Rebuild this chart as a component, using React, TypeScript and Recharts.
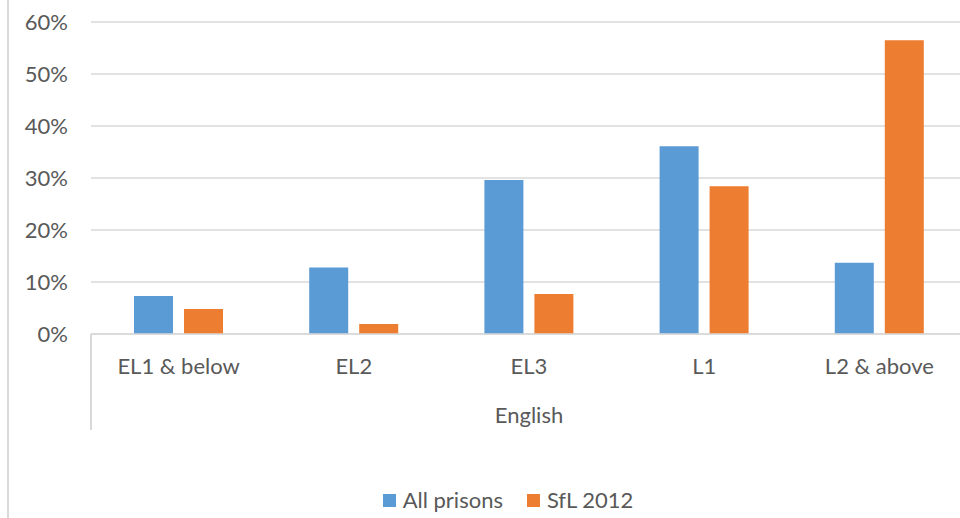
import { BarChart, Bar, XAxis, YAxis, CartesianGrid, Legend } from 'recharts';

const levels = ['EL1 & below', 'EL2', 'EL3', 'L1', 'L2 & above'];
const allPrisons = [7.3, 12.8, 29.6, 36.1, 13.7];
const sfl2012 = [4.8, 1.9, 7.7, 28.4, 56.5];
const yTicks = [0, 10, 20, 30, 40, 50, 60];
const groupName = 'English';

const data = levels.map((level, i) => ({
  level,
  group: groupName,
  allPrisons: allPrisons[i],
  sfl2012: sfl2012[i],
}));

const FONT = 'Lato, "Open Sans", sans-serif';
const TEXT = '#595959';
const GRID = '#d9d9d9';
const BLUE = '#5B9BD5';
const ORANGE = '#ED7D31';

const legendItems = [
  { label: 'All prisons', color: BLUE },
  { label: 'SfL 2012', color: ORANGE },
];

function ChartLegend() {
  return (
    <div
      style={{
        height: 64,
        width: 960,
        display: 'flex',
        justifyContent: 'center',
        alignItems: 'flex-start',
        paddingLeft: 56,
        boxSizing: 'border-box',
        paddingTop: 32,
        fontFamily: FONT,
        fontSize: 22,
        color: TEXT,
      }}
    >
      {legendItems.map((item, i) => (
        <div key={item.label} style={{ display: 'flex', alignItems: 'center', marginLeft: i ? 24 : 0 }}>
          <span style={{ width: 13, height: 13, background: item.color, display: 'inline-block', marginRight: 7 }} />
          <span style={{ lineHeight: '28px' }}>{item.label}</span>
        </div>
      ))}
    </div>
  );
}

export default function App() {
  return (
    <div style={{ position: 'absolute', left: 0, top: 0, width: 960, height: 518, background: '#fff', overflow: 'hidden' }}>
      <div style={{ position: 'absolute', left: 7, top: 0, width: 1.5, height: 518, background: GRID }} />
      <div style={{ position: 'absolute', left: 90, top: 334, width: 1.5, height: 96, background: GRID }} />
      <BarChart
        width={967}
        height={518}
        data={data}
        margin={{ top: 22, right: 0, bottom: 0, left: 0 }}
        barSize={39}
        barGap={11}
      >
        <CartesianGrid vertical={false} stroke={GRID} strokeWidth={1.3} />
        <XAxis
          dataKey="level"
          height={60}
          axisLine={{ stroke: GRID, strokeWidth: 1.3 }}
          tickLine={false}
          tickSize={6}
          tickMargin={18}
          tick={{ fill: TEXT, fontSize: 22, fontFamily: FONT }}
        />
        <XAxis
          xAxisId="group"
          dataKey="group"
          allowDuplicatedCategory={false}
          height={60}
          axisLine={false}
          tickLine={false}
          tickSize={6}
          tickMargin={7}
          tick={{ fill: TEXT, fontSize: 22, fontFamily: FONT }}
        />
        <YAxis
          width={91}
          domain={[0, 60]}
          ticks={yTicks}
          axisLine={false}
          tickLine={false}
          tickSize={6}
          tickMargin={17}
          tickFormatter={(v: number) => `${v}%`}
          tick={{ fill: TEXT, fontSize: 22, fontFamily: FONT }}
        />
        <Legend verticalAlign="bottom" align="left" content={() => <ChartLegend />} />
        <Bar dataKey="allPrisons" name="All prisons" fill={BLUE} isAnimationActive={false} />
        <Bar dataKey="sfl2012" name="SfL 2012" fill={ORANGE} isAnimationActive={false} />
      </BarChart>
    </div>
  );
}
